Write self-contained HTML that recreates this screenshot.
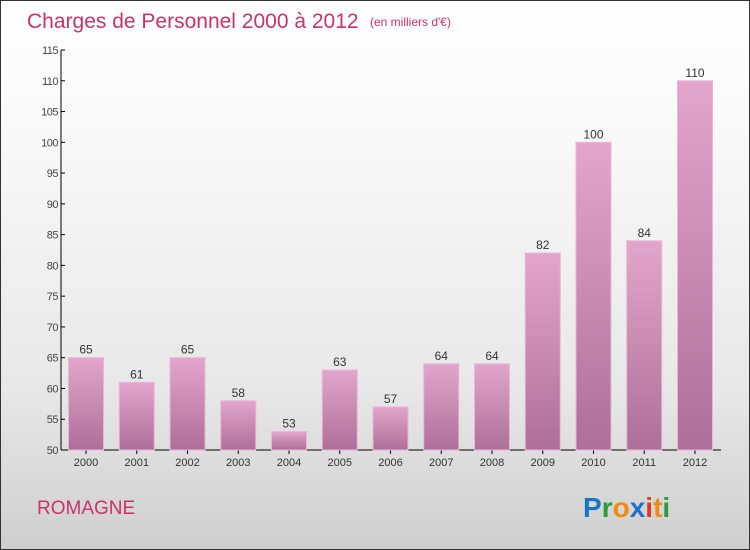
<!DOCTYPE html>
<html><head><meta charset="utf-8"><style>
body{margin:0;}
#c{position:relative;width:748px;height:548px;border:1px solid #333;background:linear-gradient(#fff,#fafafa 20%,#e8e8e8 70%,#cfcfcf);font-family:"Liberation Sans",sans-serif;overflow:hidden}
</style></head><body>
<div id="c">
<svg id="s" width="748" height="548" style="position:absolute;left:0;top:0">
<defs><linearGradient id="g" x1="0" y1="0" x2="0" y2="1"><stop offset="0" stop-color="#e2a6cc"/><stop offset="1" stop-color="#ad6f97"/></linearGradient></defs>
<text x="26" y="27" font-size="21" fill="#c8336a">Charges de Personnel 2000 à 2012</text>
<text x="369" y="25" font-size="12" fill="#c8336a">(en milliers d'€)</text>
<text x="36" y="513" font-size="19" fill="#c8336a">ROMAGNE</text>
<g font-size="28" font-weight="bold" font-family="'Liberation Sans',sans-serif">
<text x="582" y="516"><tspan fill="#1a74c9">P</tspan><tspan fill="#2a9a3a">r</tspan><tspan fill="#f08a10">o</tspan><tspan fill="#1a74c9">x</tspan><tspan fill="#e03a20">i</tspan><tspan fill="#f08a10">t</tspan><tspan fill="#2a9a3a">i</tspan></text></g>
<g id="axes"></g><g id="bars"></g>
</svg>
</div>
<script>
const years=["2000","2001","2002","2003","2004","2005","2006","2007","2008","2009","2010","2011","2012"];
const values=[65,61,65,58,53,63,57,64,64,82,100,84,110];
const ticks=[50,55,60,65,70,75,80,85,90,95,100,105,110,115];
const NS="http://www.w3.org/2000/svg";
const y0=449,y1=49,vmin=50,vmax=115,x0=60,x1=720;
const Y=v=>y0-(v-vmin)/(vmax-vmin)*(y0-y1);
const X=i=>85+i*50.75;
function mk(t,a,p){const e=document.createElementNS(NS,t);for(const k in a)e.setAttribute(k,a[k]);p.appendChild(e);return e;}
const ax=document.getElementById('axes'),bg=document.getElementById('bars');
let l=mk('line',{x1:x0,y1:y1,x2:x0,y2:y0,stroke:'#000'},ax);


l=mk('line',{x1:x0,y1:y0,x2:x1,y2:y0,stroke:'#000'},ax);


ticks.forEach(v=>{
 mk('line',{x1:x0,y1:Y(v),x2:x0+4,y2:Y(v),stroke:'#000'},ax);
 const t=mk('text',{x:x0-3,y:Y(v)+4,'font-size':11,fill:'#444','text-anchor':'end','letter-spacing':'-0.5'},ax);
 t.textContent=v;
 
 
});
years.forEach((yr,i)=>{
 const v=values[i],cx=X(i);
 const r=mk('rect',{x:cx-17.5,y:Y(v),width:35,height:y0-Y(v),fill:'url(#g)',stroke:'#e9b6d6','stroke-width':1},bg);
 
 
 const t=mk('text',{x:cx,y:Y(v)-4,'font-size':12,fill:'#333','text-anchor':'middle'},bg);
 t.textContent=v;
 
 
 mk('line',{x1:cx,y1:y0,x2:cx,y2:y0+4,stroke:'#000'},ax);
 const x=mk('text',{x:cx,y:y0+16,'font-size':11,fill:'#333','text-anchor':'middle'},ax);
 x.textContent=yr;
 
 
});
</script>
</body></html>
